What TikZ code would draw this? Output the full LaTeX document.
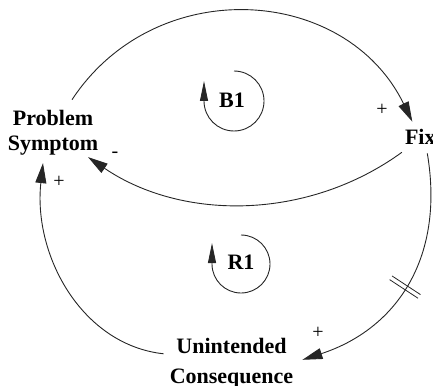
\documentclass[tikz,border=0pt]{standalone}
\usepackage{fontspec}
\setmainfont{Liberation Serif}
\usetikzlibrary{arrows.meta,calc,decorations.markings}
\begin{document}
\begin{tikzpicture}[x=1pt,y=-1pt,
  var/.style={font=\fontsize{22}{25}\selectfont\bfseries, align=center, inner sep=0pt},
  link/.style={line width=0.9pt, draw=black!85, -{Triangle[length=20pt,width=11pt]}},
  looparrow/.style={line width=0.9pt, draw=black!85, -{Triangle[length=20pt,width=8pt]}},
  sign/.style={font=\fontsize{20}{20}\selectfont, inner sep=0pt},
  looplabel/.style={font=\fontsize{22}{22}\selectfont\bfseries, inner sep=0pt},
  delaymark/.style={postaction={decorate}, decoration={markings, mark=at position 0.52 with {\draw[-, line width=0.8pt,black!85] (-2.2pt,-17pt)--(-2.2pt,17pt); \draw[-, line width=0.8pt,black!85] (2.2pt,-17pt)--(2.2pt,17pt);}}}
]
\useasboundingbox (0,0) rectangle (433,385);

% variables
\node[var] (ps) at (53,132.4) {Problem\\Symptom};
\node[var] (fix) at (420.3,136.5) {Fix};
\node[var, font=\fontsize{22}{30}\selectfont\bfseries] (uc) at (231.5,362.8) {Unintended\\Consequence};

% links
\draw[link] ($(ps.north)+(19,-10)$) .. controls +(83.7,-126.8) and +(-66.5,-136.6) .. ($(fix.north)+(-8,-7)$);
\draw[link] ($(fix.south west)+(-3,8)$) .. controls +(-93,67.6) and +(95.1,64.5) .. ($(ps.south)+(35,2)$);
\draw[link] ($(uc.west)+(-6,-9)$) .. controls +(-82,-9) and +(-10,92) .. ($(ps.south)+(-10,8)$);
\draw[link, delaymark] ($(fix.south)+(7,9)$) .. controls +(18,107) and +(92,-30) .. ($(uc.east)+(9,-3)$);

% polarities
\node[sign] (p1) at (382,110) {+};
\node[sign] (p2) at (115,155) {-};
\node[sign] (p3) at (59,182) {+};
\node[sign] (p4) at (318,333) {+};

% loops
\node[looplabel] (b1) at (232,100) {B1};
\draw[looparrow] ($(b1)+(2,1)$) ++(-90:30) arc[start angle=-90, end angle=180, radius=30] -- ++(0,-20);
\node[looplabel] (r1) at (241,262) {R1};
\draw[looparrow] ($(r1)+(0,2)$) ++(-90:29) arc[start angle=-90, end angle=180, radius=29] -- ++(0,-21);
\end{tikzpicture}
\end{document}
